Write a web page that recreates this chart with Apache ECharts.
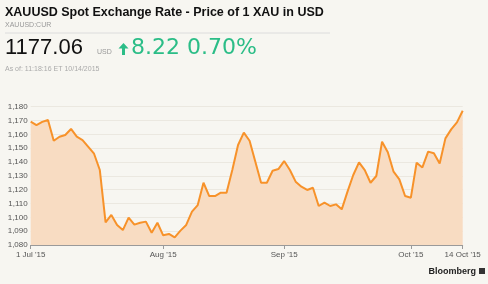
<!DOCTYPE html>
<html><head><meta charset="utf-8">
<script src="https://cdn.jsdelivr.net/npm/echarts@6/dist/echarts.min.js"></script>
<style>html,body{margin:0;padding:0;background:#f7f6f1;}#c{width:488px;height:284px;}</style>
</head><body><div id="c"></div>
<script>
// Trading days (weekdays) Jul 1 – Oct 14, 2015
var julDays = [1,2,3,6,7,8,9,10,13,14,15,16,17,20,21,22,23,24,27,28,29,30,31];
var augDays = [3,4,5,6,7,10,11,12,13,14,17,18,19,20,21,24,25,26,27,28,31];
var sepDays = [1,2,3,4,7,8,9,10,11,14,15,16,17,18,21,22,23,24,25,28,29,30];
var octDays = [1,2,5,6,7,8,9,12,13,14];

var prices = [
  1169.2,1166.7,1169.0,1170.4,1155.4,1158.3,1159.5,1163.9,1158.3,1155.9,
  1151.0,1146.0,1134.2,1096.4,1101.7,1094.5,1090.8,1099.8,1094.7,1096.1,
  1096.9,1088.9,1096.1,1087.0,1088.0,1085.5,1090.4,1094.5,1104.1,1108.9,
  1125.0,1115.4,1115.4,1117.8,1117.8,1134.2,1152.3,1161.2,1155.4,1140.2,
  1125.0,1125.0,1133.7,1134.9,1140.7,1134.2,1125.8,1122.2,1119.8,1121.4,
  1108.2,1110.6,1108.2,1109.4,1105.8,1118.6,1130.6,1139.8,1134.2,1125.0,
  1129.9,1154.7,1147.0,1133.0,1127.5,1115.4,1114.2,1139.5,1136.1,1147.5,
  1146.3,1139.0,1157.1,1163.6,1168.7,1177.06
];

var tickDates = ["2015-07-01","2015-08-03","2015-09-01","2015-10-01","2015-10-14"];
var tickLabels = ["1 Jul '15","Aug '15","Sep '15","Oct '15","14 Oct '15"];

function pad(n){return n<10?'0'+n:''+n;}
var dates = [];
julDays.forEach(function(d){dates.push('2015-07-'+pad(d));});
augDays.forEach(function(d){dates.push('2015-08-'+pad(d));});
sepDays.forEach(function(d){dates.push('2015-09-'+pad(d));});
octDays.forEach(function(d){dates.push('2015-10-'+pad(d));});

function isTick(idx){ return tickDates.indexOf(dates[idx]) >= 0; }

var chart = echarts.init(document.getElementById('c'), null, {renderer:'canvas'});
var F = '"Liberation Sans", Arial, sans-serif';
chart.setOption({
  backgroundColor: '#f7f6f1',
  animation: false,
  grid: {left: 30.7, right: 25.3, top: 106.7, bottom: 39, containLabel: false},
  xAxis: {
    type: 'category', data: dates, boundaryGap: false,
    axisLine: {show: true, lineStyle: {color: '#9a9a9a', width: 1}},
    axisTick: {show: true, length: 4, interval: function(i){return isTick(i);}, lineStyle: {color: '#9a9a9a'}},
    axisLabel: {
      interval: function(i){return isTick(i);},
      formatter: function(v){var k = tickDates.indexOf(v); return k>=0 ? tickLabels[k] : '';},
      color: '#555', fontSize: 8, fontFamily: F, margin: 6
    },
    splitLine: {show: false}
  },
  yAxis: {
    type: 'value', min: 1080, max: 1180, interval: 10,
    axisLine: {show: false}, axisTick: {show: false},
    axisLabel: {
      formatter: function(v){return echarts.format.addCommas(v);},
      color: '#555', fontSize: 8, fontFamily: F, margin: 3
    },
    splitLine: {show: true, lineStyle: {color: '#ebe8e0', width: 1}}
  },
  series: [{
    type: 'line', data: prices, showSymbol: false, symbol: 'none',
    lineStyle: {color: '#f7922a', width: 2},
    areaStyle: {color: '#f8dcc2', opacity: 1, origin: 'start'},
    z: 3
  }],
  graphic: [
    {type:'text', left: 5, top: 6, style:{text:'XAUUSD Spot Exchange Rate - Price of 1 XAU in USD', font:'bold 12.5px '+F, fill:'#111'}},
    {type:'text', left: 5, top: 22, style:{text:'XAUUSD:CUR', font:'7px '+F, fill:'#999'}},
    {type:'line', shape:{x1:5, y1:33, x2:330, y2:33}, style:{stroke:'#dcdcdc', lineWidth:1}},
    {type:'text', left: 5, top: 37, style:{text:'1177.06', font:'22px '+F, fill:'#111'}},
    {type:'text', left: 97, top: 49, style:{text:'USD', font:'7px '+F, fill:'#999'}},
    {type:'polygon', shape:{points:[[123.5,43],[128.5,48.5],[125,48.5],[125,55],[122,55],[122,48.5],[118.5,48.5]]}, style:{fill:'#2bbd87'}},
    {type:'text', left: 131, top: 37, style:{text:'8.22 0.70%', font:'22px "DejaVu Sans", sans-serif', fill:'#2bbd87'}},
    {type:'text', left: 5, top: 66, style:{text:'As of: 11:18:16 ET 10/14/2015', font:'7px '+F, fill:'#aaa'}},
    {type:'text', right: 12, top: 267, style:{text:'Bloomberg', font:'bold 9px '+F, fill:'#222'}},
    {type:'rect', shape:{x:479, y:268, width:6, height:6}, style:{fill:'#333'}}
  ]
});
</script></body></html>
